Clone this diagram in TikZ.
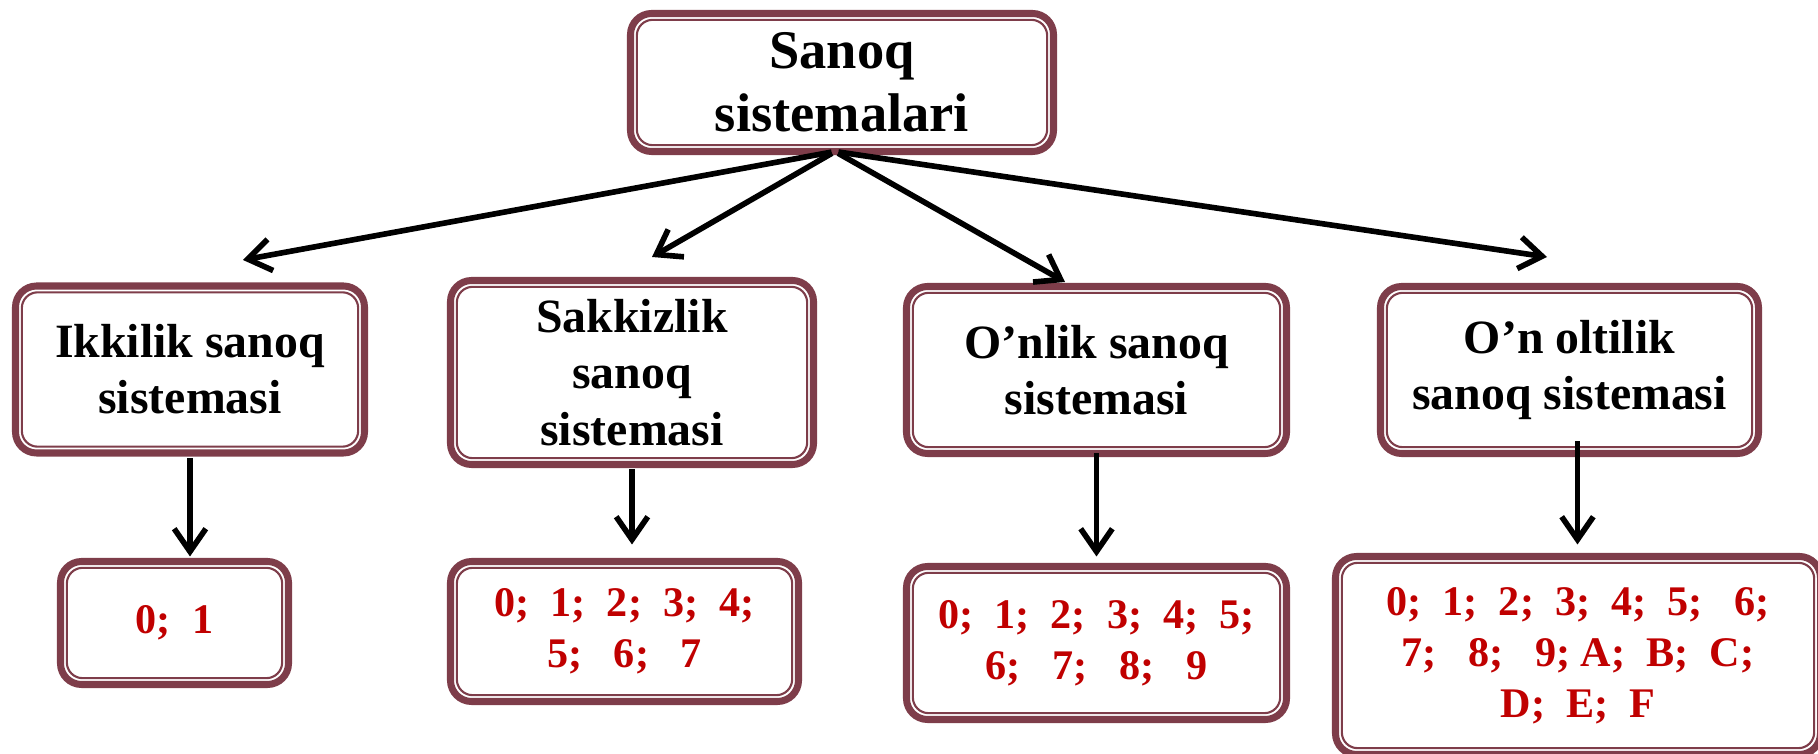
\documentclass[tikz,border=0pt]{standalone}
\usepackage{fontspec}
\setmainfont{Liberation Serif}
\usetikzlibrary{arrows.meta}

\definecolor{frame}{RGB}{126,61,74}
\definecolor{digits}{RGB}{192,0,0}

\tikzset{
	box/.style   = {draw=frame, line width=2pt, rounded corners=6pt, fill=white,
	                align=center, inner sep=0pt, outer sep=0pt},
	inner/.style = {draw=frame, line width=0.6pt, rounded corners=4.5pt},
	sys/.style   = {box, font=\fontsize{13.6}{16}\selectfont\bfseries, minimum height=1.67cm},
	digs/.style  = {box, text=digits, font=\fontsize{12}{14.5}\selectfont\bfseries},
	arr/.style   = {-{Straight Barb[length=6.5pt,width=9pt]}, line width=1.6pt},
}

\begin{document}
\begin{tikzpicture}
			\clip (0,0) rectangle (18.18,-7.54);
			%
			\node[box, font=\fontsize{15.5}{17.8}\selectfont\bfseries,
			      minimum width=4.23cm, minimum height=1.38cm] (top) at (8.42,-0.825) {Sanoq\\sistemalari};
			%
			\node[sys, minimum width=3.49cm]                        (b2)  at (1.90,  -3.695) {Ikkilik sanoq\\sistemasi};
			\node[sys, minimum width=3.63cm, minimum height=1.84cm] (b8)  at (6.32,  -3.725) {Sakkizlik\\sanoq\\sistemasi};
			\node[sys, minimum width=3.80cm]                        (b10) at (10.965,-3.70 ) {O’nlik sanoq\\sistemasi};
			\node[sys, minimum width=3.78cm]                        (b16) at (15.695,-3.70 ) {O’n oltilik\\sanoq sistemasi};
			%
			\node[digs, minimum width=2.28cm, minimum height=1.23cm] (d2)  at (1.745, -6.23 ) {0;~~1};
			\node[digs, minimum width=3.48cm, minimum height=1.40cm] (d8)  at (6.245, -6.315) {0;~~1;~~2;~~3;~~4;\\5;~~~6;~~~7};
			\node[digs, minimum width=3.80cm, minimum height=1.53cm] (d10) at (10.965,-6.43 ) {0;~~1;~~2;~~3;~~4;~~5;\\6;~~~7;~~~8;~~~9};
			\node[digs, minimum width=4.85cm, minimum height=1.98cm] (d16) at (15.78, -6.555) {0;~~1;~~2;~~3;~~4;~~5;~~~6;\\7;~~~8;~~~9;~A;~~B;~~C;\\D;~~E;~~F};
			%
			\foreach \n in {top,b2,b8,b10,b16,d2,d8,d10,d16}
			{	\draw[inner] ([shift={(1.8pt,1.8pt)}]\n.south west) rectangle ([shift={(-1.8pt,-1.8pt)}]\n.north east);
			}
			%
			\coordinate (t2)  at (2.43, -2.60);
			\coordinate (t8)  at (6.52, -2.57);
			\coordinate (t10) at (10.65,-2.82);
			\coordinate (t16) at (15.47,-2.57);
			\foreach \t in {t2,t8,t10,t16}
			{	\draw[arr, shorten <=1pt] ([xshift=-0.07cm]top.south) -- (\t);
			}
			%
			\def\down {b2/d2/0/0.05/0.05, b8/d8/0/0.05/0.17, b10/d10/0/0/0.1, b16/d16/0.08/-0.12/0.12}  % from/to/shift/start/end
			\foreach \u/\v/\x/\s/\e in \down
			{	\draw[arr, shorten <=\s cm, shorten >=\e cm] ([xshift=\x cm]\u.south) -- ([xshift=\x cm]\u.south |- \v.north);
			}
\end{tikzpicture}
\end{document}
